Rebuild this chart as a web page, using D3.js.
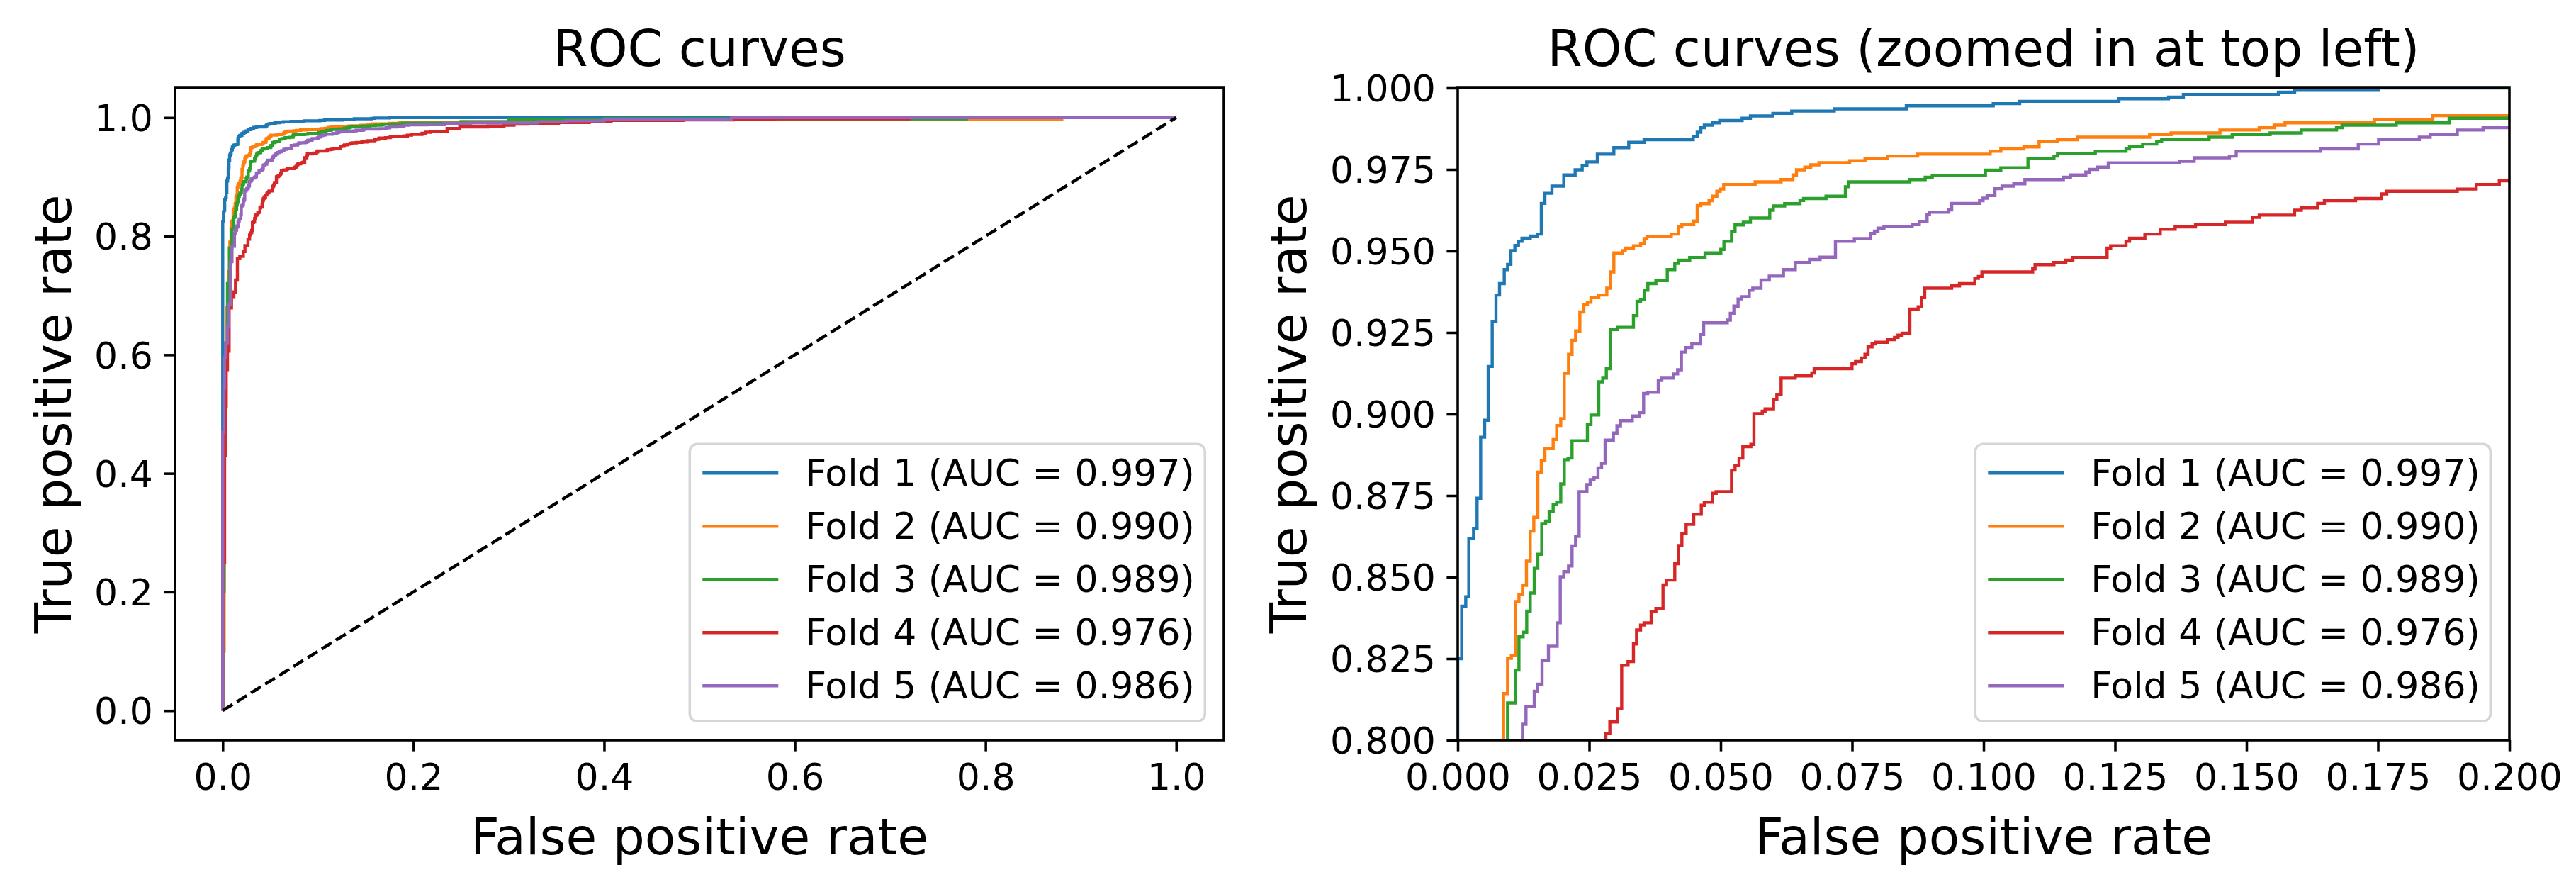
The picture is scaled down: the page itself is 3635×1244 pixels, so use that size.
<!DOCTYPE html>
<html>
<head>
<meta charset="utf-8">
<script src="https://cdn.jsdelivr.net/npm/d3@7/dist/d3.min.js"></script>
<style>
  html, body { margin: 0; padding: 0; background: #ffffff; }
  svg { display: block; }
  text { font-family: "DejaVu Sans", sans-serif; fill: #000; }
</style>
</head>
<body>
<script>
// ---------------- data ----------------
const foldNames = ["Fold 1", "Fold 2", "Fold 3", "Fold 4", "Fold 5"];
const foldAUC = ["0.997", "0.990", "0.989", "0.976", "0.986"];
const foldColors = ["#1f77b4", "#ff7f0e", "#2ca02c", "#d62728", "#9467bd"];

// each point: [false positive rate, true positive rate] after the step
const fold1 = [[0,0],[0,0.825],[0.00076,0.8411],[0.00153,0.844],[0.00211,0.8619],[0.00301,0.8649],[0.00368,0.8742],[0.00436,0.8929],[0.00512,0.8981],[0.0058,0.9146],[0.00656,0.9284],[0.00728,0.9365],[0.00795,0.940],[0.00885,0.9443],[0.00948,0.9459],[0.01011,0.9501],[0.01087,0.9517],[0.01155,0.953],[0.01222,0.9539],[0.01379,0.9546],[0.01514,0.9552],[0.0159,0.9646],[0.01658,0.9677],[0.01792,0.9699],[0.02017,0.9733],[0.02233,0.9749],[0.02367,0.9762],[0.02457,0.9773],[0.02655,0.9797],[0.02969,0.9817],[0.03252,0.9833],[0.03544,0.9841],[0.04479,0.9851],[0.04555,0.9864],[0.04623,0.9878],[0.0469,0.9886],[0.04847,0.9893],[0.04982,0.99],[0.05409,0.9907],[0.05566,0.9914],[0.05993,0.9922],[0.06352,0.9929],[0.07161,0.9936],[0.08531,0.9945],[0.10184,0.9952],[0.10687,0.9959],[0.12574,0.9967],[0.13518,0.9972],[0.138,0.998],[0.15607,0.9987],[0.15916,0.9993],[0.1751,1.0],[1,1]];

const fold2 = [[0,0],[0,0.1],[0.0015,0.45],[0.003,0.6],[0.0045,0.68],[0.006,0.74],[0.0075,0.79],[0.00872,0.8143],[0.00948,0.8251],[0.0102,0.8259],[0.01096,0.8425],[0.01164,0.8447],[0.01231,0.8475],[0.01307,0.8549],[0.01379,0.8641],[0.01447,0.8683],[0.01523,0.8822],[0.0159,0.8858],[0.01658,0.8894],[0.01815,0.8922],[0.01882,0.8965],[0.01959,0.8986],[0.02026,0.9125],[0.02107,0.9183],[0.02174,0.9226],[0.02242,0.9255],[0.02323,0.9313],[0.02399,0.9335],[0.02466,0.9343],[0.02534,0.9357],[0.02682,0.9365],[0.02835,0.9386],[0.02907,0.9436],[0.02969,0.9494],[0.03131,0.9501],[0.03185,0.9509],[0.03342,0.9516],[0.03477,0.9523],[0.03544,0.9538],[0.03598,0.9545],[0.04061,0.9552],[0.04196,0.9574],[0.04263,0.9581],[0.04488,0.9592],[0.04555,0.9639],[0.04623,0.9645],[0.0478,0.9654],[0.04847,0.9668],[0.04928,0.9683],[0.04991,0.969],[0.05058,0.9704],[0.05656,0.9712],[0.0615,0.9719],[0.06375,0.9733],[0.06442,0.9749],[0.066,0.9757],[0.06712,0.9764],[0.06869,0.9771],[0.07453,0.9777],[0.07745,0.9784],[0.08172,0.9791],[0.08747,0.9797],[0.10126,0.9806],[0.10328,0.9813],[0.10768,0.9819],[0.11056,0.9835],[0.11406,0.9841],[0.11788,0.9849],[0.13158,0.9857],[0.13567,0.9862],[0.14496,0.9871],[0.15243,0.9878],[0.15526,0.9886],[0.15733,0.9893],[0.17435,0.9904],[0.18544,0.9915],[0.25,0.993],[0.3,0.995],[0.4,0.9975],[0.88,1.0],[1,1]];

const fold3 = [[0,0],[0,0.2],[0.0015,0.5],[0.003,0.62],[0.005,0.72],[0.007,0.78],[0.00948,0.8114],[0.01096,0.8215],[0.01164,0.8317],[0.01244,0.8331],[0.01312,0.8396],[0.01379,0.8451],[0.01456,0.8527],[0.01523,0.857],[0.01599,0.8664],[0.01671,0.8672],[0.01739,0.8701],[0.01815,0.8722],[0.01882,0.873],[0.01959,0.8786],[0.02026,0.886],[0.02098,0.8865],[0.02174,0.8918],[0.02466,0.8968],[0.02534,0.8997],[0.02682,0.9099],[0.02758,0.911],[0.02826,0.9139],[0.02907,0.9259],[0.03041,0.9266],[0.03342,0.9302],[0.0341,0.9346],[0.03477,0.9351],[0.03553,0.938],[0.03616,0.94],[0.03769,0.9409],[0.03985,0.9443],[0.04128,0.9462],[0.04196,0.9472],[0.04411,0.948],[0.04704,0.9494],[0.05004,0.9505],[0.05063,0.953],[0.05207,0.9559],[0.05274,0.958],[0.05431,0.9588],[0.05566,0.9601],[0.05934,0.9625],[0.06002,0.9638],[0.06217,0.9645],[0.06509,0.9655],[0.06577,0.9661],[0.07004,0.9668],[0.07372,0.9697],[0.0743,0.9712],[0.08598,0.9719],[0.0889,0.9726],[0.09025,0.9732],[0.10036,0.9748],[0.10328,0.9755],[0.10845,0.9784],[0.11339,0.9791],[0.11406,0.9799],[0.12125,0.9806],[0.12709,0.9813],[0.12776,0.982],[0.13024,0.9828],[0.13293,0.9836],[0.13387,0.9842],[0.1429,0.9849],[0.14728,0.9857],[0.1545,0.9862],[0.16043,0.9871],[0.16712,0.9878],[0.16817,0.9886],[0.17848,0.9893],[0.18854,0.9907],[0.25,0.993],[0.3,0.996],[0.4,0.998],[0.78,1.0],[1,1]];

const fold4 = [[0,0],[0,0.25],[0.002,0.43],[0.003,0.513],[0.0037,0.575],[0.005,0.606],[0.0067,0.679],[0.0092,0.697],[0.0117,0.706],[0.0134,0.726],[0.0154,0.762],[0.0179,0.766],[0.0216,0.774],[0.0233,0.784],[0.0265,0.795],[0.02817,0.802],[0.02893,0.8056],[0.03041,0.8097],[0.03118,0.823],[0.03239,0.8241],[0.03342,0.8295],[0.03401,0.8338],[0.03477,0.8353],[0.03544,0.836],[0.03679,0.8394],[0.03769,0.8404],[0.03904,0.8476],[0.03971,0.8491],[0.04128,0.8541],[0.04196,0.8597],[0.04263,0.8633],[0.04344,0.8662],[0.04488,0.8693],[0.04632,0.872],[0.0469,0.873],[0.04847,0.8757],[0.04915,0.8762],[0.05207,0.8828],[0.05274,0.8842],[0.0535,0.8865],[0.05422,0.89],[0.05575,0.8907],[0.05633,0.9001],[0.05791,0.9009],[0.05845,0.9016],[0.06006,0.9045],[0.06069,0.9059],[0.0615,0.911],[0.06419,0.9117],[0.06734,0.9126],[0.06779,0.9139],[0.07498,0.9154],[0.07565,0.9161],[0.07678,0.9172],[0.07745,0.9183],[0.07803,0.9206],[0.07879,0.9215],[0.07947,0.922],[0.08172,0.9228],[0.08307,0.9235],[0.08374,0.9242],[0.0845,0.9248],[0.08598,0.9322],[0.08756,0.9329],[0.08823,0.9357],[0.08881,0.9386],[0.09394,0.9393],[0.09542,0.94],[0.09834,0.9416],[0.09901,0.9422],[0.09969,0.9436],[0.10934,0.9445],[0.10979,0.9458],[0.11338,0.9465],[0.11563,0.9472],[0.11698,0.948],[0.12349,0.9509],[0.12417,0.9516],[0.12709,0.953],[0.12776,0.9539],[0.13068,0.9552],[0.1336,0.9567],[0.13644,0.9574],[0.14031,0.9581],[0.14598,0.9588],[0.15115,0.9603],[0.15244,0.961],[0.15915,0.9625],[0.16043,0.9632],[0.16353,0.9646],[0.16482,0.9654],[0.17075,0.9661],[0.17565,0.9675],[0.17668,0.9683],[0.19009,0.969],[0.19369,0.9704],[0.19808,0.9715],[0.209,0.9735],[0.2125,0.9752],[0.2178,0.9768],[0.2353,0.9817],[0.2486,0.9841],[0.2781,0.9857],[0.295,0.9873],[0.3055,0.9889],[0.3195,0.99],[0.3522,0.9916],[0.3845,0.993],[0.4073,0.9952],[0.4827,0.996],[0.5353,0.9968],[0.5792,0.998],[0.72,1.0],[1,1]];

const fold5 = [[0,0],[0,0.469],[0.0013,0.544],[0.0018,0.596],[0.003,0.62],[0.005,0.648],[0.006,0.684],[0.008,0.757],[0.0097,0.783],[0.01231,0.8049],[0.01298,0.8103],[0.01456,0.815],[0.01514,0.8172],[0.01604,0.8244],[0.01725,0.8288],[0.01891,0.836],[0.0195,0.8501],[0.02017,0.8517],[0.02107,0.8534],[0.02174,0.8596],[0.02242,0.8625],[0.02309,0.8762],[0.02457,0.8784],[0.0252,0.8799],[0.02592,0.8806],[0.02668,0.8835],[0.02736,0.8849],[0.02803,0.892],[0.0296,0.8942],[0.03028,0.8964],[0.03095,0.898],[0.0332,0.8994],[0.03455,0.9004],[0.03535,0.9063],[0.03612,0.9067],[0.03814,0.9103],[0.03881,0.911],[0.04106,0.9123],[0.04182,0.9136],[0.04254,0.919],[0.04331,0.9204],[0.04452,0.9215],[0.04614,0.9244],[0.04677,0.928],[0.05126,0.9288],[0.05184,0.9309],[0.05252,0.9331],[0.05332,0.9353],[0.05395,0.936],[0.05544,0.938],[0.05611,0.9386],[0.05768,0.9411],[0.05925,0.9423],[0.06195,0.9443],[0.0642,0.9465],[0.0669,0.9474],[0.06891,0.9481],[0.07183,0.953],[0.07543,0.9538],[0.07848,0.9554],[0.07925,0.9561],[0.07992,0.957],[0.08105,0.9575],[0.08643,0.9581],[0.08778,0.959],[0.08926,0.9612],[0.08971,0.9619],[0.09339,0.9626],[0.09394,0.9646],[0.09924,0.9654],[0.09991,0.9662],[0.10067,0.967],[0.10216,0.9691],[0.10351,0.9699],[0.10575,0.9706],[0.10786,0.9719],[0.11518,0.9726],[0.11653,0.9733],[0.11945,0.9742],[0.12012,0.975],[0.12169,0.9757],[0.12372,0.977],[0.13722,0.9775],[0.14005,0.9786],[0.14676,0.9791],[0.14805,0.9806],[0.16404,0.9813],[0.17126,0.9828],[0.17513,0.9842],[0.18287,0.9849],[0.18493,0.9857],[0.19009,0.9871],[0.19499,0.9878],[0.215,0.988],[0.233,0.990],[0.26,0.991],[0.33,0.993],[0.36,0.9945],[0.40,0.9965],[0.5335,1.0],[1,1]];

const folds = [fold1, fold2, fold3, fold4, fold5];
const chanceLine = [[0,0],[1,1]];

const leftTicks = [0.0, 0.2, 0.4, 0.6, 0.8, 1.0];
const zoomXTicks = [0.000, 0.025, 0.050, 0.075, 0.100, 0.125, 0.150, 0.175, 0.200];
const zoomYTicks = [0.800, 0.825, 0.850, 0.875, 0.900, 0.925, 0.950, 0.975, 1.000];

const titles = ["ROC curves", "ROC curves (zoomed in at top left)"];
const xLabel = "False positive rate";
const yLabel = "True positive rate";

// ---------------- drawing ----------------
const W = 3635, H = 1244;
const svg = d3.select("body").append("svg").attr("width", W).attr("height", H);
svg.append("rect").attr("width", W).attr("height", H).attr("fill", "#fff");

const TICK_FS = 52, LABEL_FS = 71, LW = 4.4, SPINE = 3.55, TICKLEN = 15.6;

const panels = [
  { x: d3.scaleLinear().domain([-0.05, 1.05]).range([247, 1727]),
    y: d3.scaleLinear().domain([-0.05, 1.05]).range([1044, 124]),
    xt: leftTicks, yt: leftTicks, fmt: d3.format(".1f"), ylabX: 100 },
  { x: d3.scaleLinear().domain([0, 0.2]).range([2057, 3541]),
    y: d3.scaleLinear().domain([0.8, 1.0]).range([1044, 124]),
    xt: zoomXTicks, yt: zoomYTicks, fmt: d3.format(".3f"), ylabX: 1843 }
];

panels.forEach((p, pi) => {
  const [x0, x1] = p.x.range();
  const [y1, y0] = p.y.range();
  const g = svg.append("g");
  const clipId = "clip" + pi;
  svg.append("clipPath").attr("id", clipId)
    .append("rect").attr("x", x0).attr("y", y0).attr("width", x1 - x0).attr("height", y1 - y0);

  const plot = g.append("g").attr("clip-path", `url(#${clipId})`);
  const line = d3.line().x(d => p.x(d[0])).y(d => p.y(d[1])).curve(d3.curveStepAfter);
  folds.forEach((f, i) => {
    plot.append("path").datum(f).attr("d", line)
      .attr("fill", "none").attr("stroke", foldColors[i])
      .attr("stroke-width", LW).attr("stroke-linejoin", "miter").attr("stroke-linecap", "butt");
  });
  const dline = d3.line().x(d => p.x(d[0])).y(d => p.y(d[1]));
  plot.append("path").datum(chanceLine).attr("d", dline)
    .attr("fill", "none").attr("stroke", "#000").attr("stroke-width", LW)
    .attr("stroke-dasharray", "16.4,7.1");

  // axes
  const xAxis = d3.axisBottom(p.x).tickValues(p.xt).tickFormat(p.fmt)
    .tickSizeInner(TICKLEN).tickSizeOuter(0).tickPadding(TICKLEN);
  const gx = g.append("g").attr("transform", `translate(0,${y1})`).call(xAxis);
  const yAxis = d3.axisLeft(p.y).tickValues(p.yt).tickFormat(p.fmt)
    .tickSizeInner(TICKLEN).tickSizeOuter(0).tickPadding(TICKLEN);
  const gy = g.append("g").attr("transform", `translate(${x0},0)`).call(yAxis);
  [gx, gy].forEach(a => {
    a.select(".domain").remove();
    a.selectAll(".tick line").attr("stroke", "#000").attr("stroke-width", SPINE);
    a.selectAll(".tick text").attr("font-size", TICK_FS).attr("font-family", "DejaVu Sans").attr("fill", "#000");
  });
  gx.selectAll(".tick text").attr("dy", null).attr("y", TICKLEN * 2 + 0.73 * TICK_FS + 1);
  gy.selectAll(".tick text").attr("dy", "0.36em");

  // spines
  g.append("rect").attr("x", x0).attr("y", y0).attr("width", x1 - x0).attr("height", y1 - y0)
    .attr("fill", "none").attr("stroke", "#000").attr("stroke-width", SPINE);

  // title & labels
  const cx = (x0 + x1) / 2, cy = (y0 + y1) / 2;
  g.append("text").attr("x", cx).attr("y", 93).attr("text-anchor", "middle")
    .attr("font-size", LABEL_FS).text(titles[pi]);
  g.append("text").attr("x", cx).attr("y", 1205).attr("text-anchor", "middle")
    .attr("font-size", LABEL_FS).text(xLabel);
  g.append("text").attr("transform", `translate(${p.ylabX},${cy}) rotate(-90)`)
    .attr("text-anchor", "middle").attr("font-size", LABEL_FS).text(yLabel);

  // legend
  const pad = 26.7, legW = 727, legH = 391;
  const lx = x1 - pad - legW, ly = y1 - pad - legH;
  const lg = g.append("g");
  lg.append("rect").attr("x", lx).attr("y", ly).attr("width", legW).attr("height", legH)
    .attr("rx", 10.6).attr("ry", 10.6)
    .attr("fill", "#fff").attr("fill-opacity", 0.8)
    .attr("stroke", "#cccccc").attr("stroke-opacity", 0.8).attr("stroke-width", SPINE);
  foldNames.forEach((n, i) => {
    const ry = ly + 41 + i * 75;
    lg.append("line").attr("x1", lx + 18).attr("x2", lx + 125).attr("y1", ry).attr("y2", ry)
      .attr("stroke", foldColors[i]).attr("stroke-width", LW);
    lg.append("text").attr("x", lx + 163).attr("y", ry + 18).attr("font-size", TICK_FS)
      .text(`${n} (AUC = ${foldAUC[i]})`);
  });
});
</script>
</body>
</html>
